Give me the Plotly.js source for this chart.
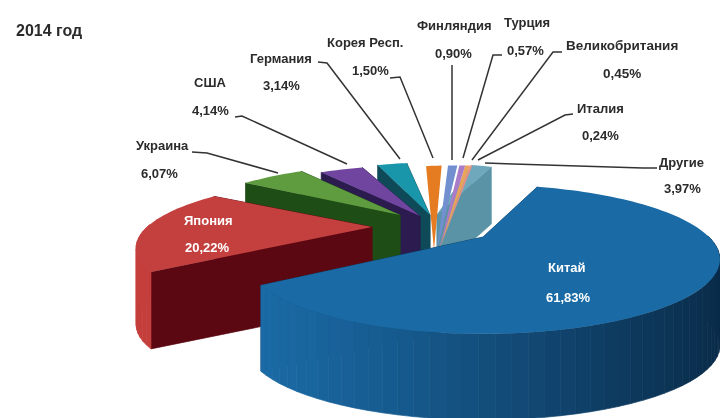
<!DOCTYPE html>
<html><head><meta charset="utf-8">
<script src="https://cdn.plot.ly/plotly-3.0.1.min.js"></script>
<style>html,body{margin:0;padding:0;background:#fff}#chart{width:720px;height:418px;filter:blur(0.7px)}</style>
</head><body><div id="chart"></div>
<script>
// Data
const chartTitle = '2014 год';
const categories = ['Китай','Япония','Украина','США','Германия','Корея Респ.','Финляндия','Турция','Великобритания','Италия','Другие'];
const shares = [61.83,20.22,6.07,4.14,3.14,1.50,0.90,0.57,0.45,0.24,3.97];

// Slice styles
const topColors  = ['#1a6ba5','#c4403f','#5f9c3f','#6f45a0','#1a96ab','#e57c22','#7290cf','#a87cc6','#e8a458','#e88f85','#6fa8bc'];
const cutColors  = ['#0e4168','#5c0812','#1f4d16','#2c1b4f','#0e4a58','#8a4a10','#506a9a','#6a4a80','#a07030','#a06058','#5a93a6'];
const wallStart  = ['#1b6ca8','#c43f3c','#1f4d16','#2c1b4f','#0e4a58','#8a4a10','#506a9a','#6a4a80','#a07030','#a06058','#5a93a6'];
const wallEnd    = ['#0a2c4a','#c43f3c','#1f4d16','#2c1b4f','#0e4a58','#8a4a10','#506a9a','#6a4a80','#a07030','#a06058','#5a93a6'];

// Projection of each exploded slice onto the page
const startAngle = 72, perspective = 0.3;
const apexX  = [483,372,400,420,430,434,437,439,439,439,437];
const apexY  = [237,227,215,216,215,250,250,250,250,250,215];
const radius = [226,225,220,220,200,220,220,220,220,220,110];
const tilt   = [0.3,0.28,0.3,0.3,0.34,0.5,0.5,0.5,0.5,0.5,0.59];
const shear  = [0,0,0,0,0,0.21,0.25,0.25,0.25,0.25,0.58];
const depth  = [86,77,80,80,80,0,0,0,0,0,57];

// Label positions: [name x, name y, value x, value y]
const labelPos = [[567,267,568,297],[208,220,207,247],[162,145,159,173],[210,82,210,110],[281,58,281,85],
  [365,42,370,70],[454,25,453,53],[527,22,525,50],[622,45,622,73],[600,108,600,135],[681,162,682,188]];
const labelColors = ['#fff','#fff','#2b2b2b','#2b2b2b','#2b2b2b','#2b2b2b','#2b2b2b','#2b2b2b','#2b2b2b','#2b2b2b','#2b2b2b'];

// Leader lines
const leaders = [null,null,
  [[192,152],[207,153],[278,173]],
  [[235,117],[242,116],[347,164]],
  [[318,62],[327,63],[400,159]],
  [[390,78],[400,77],[433,158]],
  [[452,65],[452,160]],
  [[502,55],[493,55],[463,158]],
  [[562,52],[553,52],[472,160]],
  [[573,114],[565,115],[478,160]],
  [[657,168],[643,168],[485,163]]];

const total = shares.reduce((a,b)=>a+b,0);
const rad = d=>d*Math.PI/180;
function project(i,deg,dz){
  const s=Math.sin(rad(deg)), c=Math.cos(rad(deg)), w=1+perspective*s;
  const up=radius[i]*tilt[i]*s/w;
  return [apexX[i]+radius[i]*c/w+shear[i]*up, apexY[i]-up+dz];
}
function hex(c){return [1,3,5].map(k=>parseInt(c.substr(k,2),16));}
function mix(a,b,t){const A=hex(a),B=hex(b);return 'rgb('+A.map((v,k)=>Math.round(v+(B[k]-v)*t)).join(',')+')';}

const traces=[];
function poly(pts,color,edge){
  traces.push({type:'scatter',x:pts.map(p=>p[0]).concat(pts[0][0]),y:pts.map(p=>p[1]).concat(pts[0][1]),
    mode:edge?'lines':'none',line:edge?{color:color,width:0.7}:undefined,fill:'toself',fillcolor:color,hoverinfo:'skip',showlegend:false});
}
// Sweep: clockwise from startAngle, slices in category order
const from=[],to=[];
let a=startAngle;
shares.forEach((v,i)=>{from[i]=a;a-=v/total*360;to[i]=a;});

for(let i=categories.length-1;i>=0;i--){
  const d=depth[i],apex=[apexX[i],apexY[i]];
  const p0=project(i,from[i],0),p1=project(i,to[i],0);
  if(d>0){
    poly([apex,p1,[p1[0],p1[1]+d],[apex[0],apex[1]+d]],cutColors[i],true);
    poly([apex,p0,[p0[0],p0[1]+d],[apex[0],apex[1]+d]],cutColors[i],true);
    // outer wall, only the part facing the viewer; shading follows the page position
    const n=Math.max(2,Math.ceil((from[i]-to[i])/3));
    const span=radius[i]*1.05;
    for(let k=0;k<n;k++){
      const d0=from[i]-(from[i]-to[i])*k/n,d1=from[i]-(from[i]-to[i])*(k+1)/n;
      const sm=Math.sin(rad((d0+d1)/2));
      if(sm>=0.02)continue;
      const q0=project(i,d0,0),q1=project(i,d1,0);
      const t=Math.min(1,Math.max(0,((q0[0]+q1[0])/2-apexX[i]+span)/(2*span)));
      poly([q0,q1,[q1[0],q1[1]+d],[q0[0],q0[1]+d]],mix(wallStart[i],wallEnd[i],Math.pow(t,1.1)),true);
    }
  }
  const top=[apex];
  const n=Math.max(2,Math.ceil((from[i]-to[i])/2));
  for(let k=0;k<=n;k++)top.push(project(i,from[i]-(from[i]-to[i])*k/n,0));
  poly(top,topColors[i],false);
}

const annotations=[{x:14,y:30,xref:'x',yref:'y',xanchor:'left',showarrow:false,text:chartTitle,
  font:{family:'"Liberation Sans",Arial,sans-serif',size:16,color:'#2b2b2b',weight:700}}];
const fmt=v=>v.toFixed(2).replace('.',',')+'%';
categories.forEach((name,i)=>{
  const f={family:'"Liberation Sans",Arial,sans-serif',size:i==8?13.5:13,color:labelColors[i],weight:700};
  annotations.push({x:labelPos[i][0],y:labelPos[i][1],xref:'x',yref:'y',showarrow:false,text:name,font:f});
  annotations.push({x:labelPos[i][2],y:labelPos[i][3],xref:'x',yref:'y',showarrow:false,text:fmt(shares[i]),font:f});
});
const shapes=leaders.filter(Boolean).map(l=>({type:'path',xref:'x',yref:'y',
  path:'M'+l.map(p=>p[0]+' '+p[1]).join(' L'),line:{color:'#333',width:1.5},fillcolor:'rgba(0,0,0,0)'}));

Plotly.newPlot('chart',traces,{
  width:720,height:418,margin:{l:0,r:0,t:0,b:0},showlegend:false,paper_bgcolor:'#fff',plot_bgcolor:'#fff',
  xaxis:{range:[0,720],visible:false,fixedrange:true},
  yaxis:{range:[418,0],visible:false,fixedrange:true},
  annotations,shapes
},{displayModeBar:false,staticPlot:true});
</script></body></html>
